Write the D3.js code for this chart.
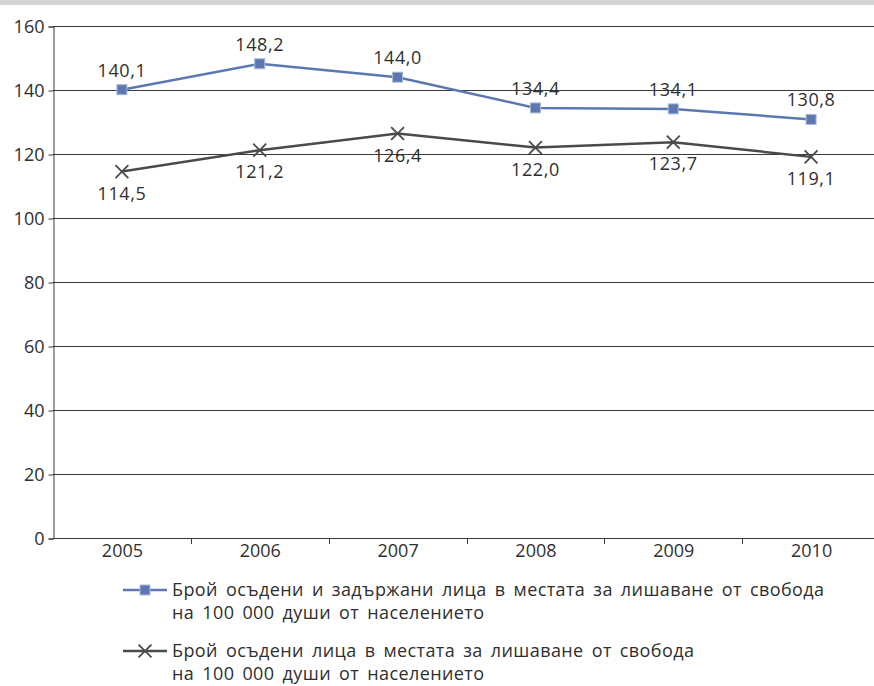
<!DOCTYPE html>
<html>
<head>
<meta charset="utf-8">
<script src="https://cdn.jsdelivr.net/npm/d3@7"></script>
<style>
  body { margin: 0; background: #fff; }
  svg { display: block; font-family: "Open Sans", "Noto Sans", sans-serif; }
</style>
</head>
<body>
<svg id="chart" width="874" height="686"></svg>
<script>
// chart data
const years = ['2005', '2006', '2007', '2008', '2009', '2010'];
const detained = [140.1, 148.2, 144.0, 134.4, 134.1, 130.8];
const convicted = [114.5, 121.2, 126.4, 122.0, 123.7, 119.1];
const yTicks = [0, 20, 40, 60, 80, 100, 120, 140, 160];
const legendLabels = [
  ['Брой осъдени и задържани лица в местата за лишаване от свобода', 'на 100 000 души от населението'],
  ['Брой осъдени лица в местата за лишаване от свобода', 'на 100 000 души от населението']
];

const svg = d3.select('#chart');
const margin = { left: 53, top: 26, right: -6, bottom: 148 };
const W = 874, H = 686;

// gray strip on top
svg.append('rect').attr('x', 0).attr('y', 0).attr('width', W).attr('height', 5).attr('fill', '#d3d3d3');

const x = d3.scaleBand().domain(years).range([margin.left, W - margin.right]);
const y = d3.scaleLinear().domain([0, 160]).range([H - margin.bottom, margin.top]);

const BLUE = '#5b78b3', DARK = '#4a4a4a', TXT = '#2f2f2f';

// gridlines
svg.append('g')
  .selectAll('line')
  .data(yTicks)
  .join('line')
  .attr('x1', margin.left).attr('x2', W)
  .attr('y1', d => Math.round(y(d)) + 0.5).attr('y2', d => Math.round(y(d)) + 0.5)
  .attr('stroke', '#3a3a3a').attr('stroke-width', 1);

// y axis
const yAxis = svg.append('g')
  .attr('transform', `translate(${margin.left + 0.5},0.5)`)
  .call(d3.axisLeft(y).tickValues(yTicks).tickSize(5).tickPadding(4).tickFormat(d3.format('d')));
yAxis.select('.domain').attr('stroke', '#3a3a3a');
yAxis.selectAll('.tick line').attr('stroke', '#3a3a3a');
yAxis.selectAll('text').attr('font-size', 18).attr('fill', TXT).attr('font-family', 'Open Sans');

// x axis
const xAxis = svg.append('g')
  .attr('transform', `translate(0.5,${Math.round(y(0)) + 0.5})`)
  .call(d3.axisBottom(x).tickSize(0).tickPadding(6));
xAxis.select('.domain').remove();
xAxis.selectAll('text').attr('font-size', 18).attr('fill', TXT).attr('font-family', 'Open Sans');
// tick marks between categories
svg.append('g')
  .selectAll('line')
  .data(years.slice(1))
  .join('line')
  .attr('x1', d => Math.round(x(d)) + 0.5).attr('x2', d => Math.round(x(d)) + 0.5)
  .attr('y1', y(0)).attr('y2', y(0) + 6)
  .attr('stroke', '#3a3a3a');

const cx = d => x(d) + x.bandwidth() / 2;
const line = d3.line().x((d, i) => cx(years[i])).y(d => y(d));

// series 1: detained + convicted (blue, squares)
svg.append('path').datum(detained)
  .attr('d', line).attr('fill', 'none').attr('stroke', BLUE).attr('stroke-width', 2.5);
svg.append('g').selectAll('rect')
  .data(detained)
  .join('rect')
  .attr('x', (d, i) => cx(years[i]) - 5).attr('y', d => y(d) - 5)
  .attr('width', 10).attr('height', 10)
  .attr('fill', BLUE).attr('stroke', '#a9b9d8').attr('stroke-width', 1);

// series 2: convicted (dark, crosses)
svg.append('path').datum(convicted)
  .attr('d', line).attr('fill', 'none').attr('stroke', DARK).attr('stroke-width', 2.5);
const cross = d3.symbol().type(d3.symbolX).size(110);
svg.append('g').selectAll('path')
  .data(convicted)
  .join('path')
  .attr('d', cross)
  .attr('transform', (d, i) => `translate(${cx(years[i])},${y(d)})`)
  .attr('fill', 'none').attr('stroke', DARK).attr('stroke-width', 1.8);

// value labels
const fmt = v => v.toFixed(1).replace('.', ',');
svg.append('g').selectAll('text')
  .data(detained)
  .join('text')
  .attr('x', (d, i) => cx(years[i])).attr('y', d => y(d) - 13)
  .attr('text-anchor', 'middle').attr('font-size', 18).attr('letter-spacing', 0.6).attr('fill', TXT)
  .text(fmt);
svg.append('g').selectAll('text')
  .data(convicted)
  .join('text')
  .attr('x', (d, i) => cx(years[i])).attr('y', d => y(d) + 28)
  .attr('text-anchor', 'middle').attr('font-size', 18).attr('letter-spacing', 0.6).attr('fill', TXT)
  .text(fmt);

// legend
const legend = svg.append('g');
const legY = [590, 651];
legendLabels.forEach((lines, k) => {
  const g = legend.append('g').attr('transform', `translate(0,${legY[k]})`);
  g.append('line').attr('x1', 123).attr('x2', 167).attr('y1', 0).attr('y2', 0)
    .attr('stroke', k === 0 ? BLUE : DARK).attr('stroke-width', 2.5);
  if (k === 0) {
    g.append('rect').attr('x', 140).attr('y', -5).attr('width', 10).attr('height', 10)
      .attr('fill', BLUE).attr('stroke', '#a9b9d8');
  } else {
    g.append('path').attr('d', cross).attr('transform', 'translate(145,0)')
      .attr('fill', 'none').attr('stroke', DARK).attr('stroke-width', 1.8);
  }
  lines.forEach((t, j) => {
    g.append('text').attr('x', 172).attr('y', 6 + j * 23)
      .attr('font-size', 18).attr('letter-spacing', 0.4).attr('word-spacing', 3)
      .attr('fill', TXT).text(t);
  });
});
</script>
</body>
</html>
